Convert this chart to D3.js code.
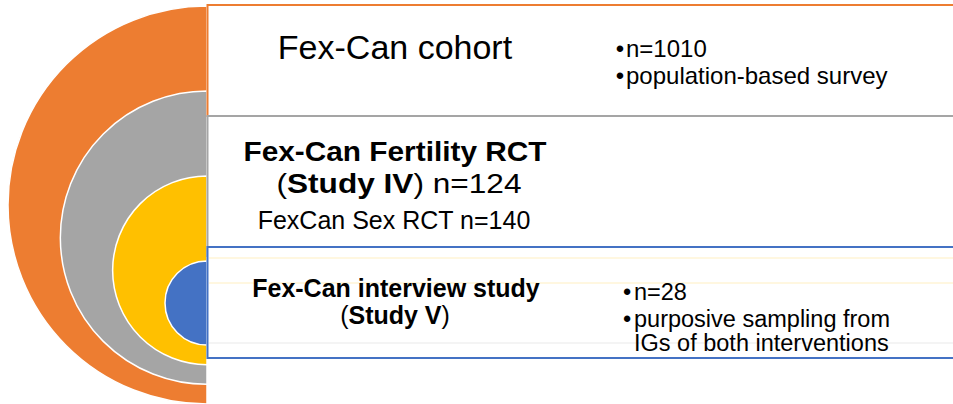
<!DOCTYPE html>
<html>
<head>
<meta charset="utf-8">
<script src="https://cdn.jsdelivr.net/npm/d3@7"></script>
<style>
  body { margin: 0; background: #fff; }
  text { font-family: "Liberation Sans", Arial, sans-serif; fill: #000; }
</style>
</head>
<body>
<div id="chart"></div>
<script>
// nested study layers, outermost first
const layers = ["Fex-Can cohort", "Fex-Can Fertility RCT", "FexCan Sex RCT", "Fex-Can interview study"];
const sampleSizes = [1010, 124, 140, 28];
const studyLabels = ["", "Study IV", "", "Study V"];
const cohortBullets = ["n=1010", "population-based survey"];
const interviewBullets = ["n=28", "purposive sampling from", "IGs of both interventions"];

const colors = ["#ED7D31", "#A5A5A5", "#FFC000", "#4472C4"];

const width = 953, height = 404;
const edgeX = 207;   // flat side of the half discs / left side of the boxes

const svg = d3.select("#chart")
  .append("svg")
  .attr("width", width)
  .attr("height", height);

// ring index -> radius and centre height
const idx = d3.range(layers.length);
const rScale = d3.scaleLinear().domain([0, 3]).range([199, 42]);
const cyScale = d3.scaleLinear().domain([0, 3]).range([205, 303]);

const arc = d3.arc()
  .innerRadius(0)
  .startAngle(Math.PI)
  .endAngle(2 * Math.PI);

svg.selectAll("path.ring")
  .data(idx)
  .enter()
  .append("path")
  .attr("class", "ring")
  .attr("transform", i => `translate(${edgeX},${cyScale(i)})`)
  .attr("d", i => arc({ outerRadius: rScale(i) }))
  .attr("fill", i => colors[i])
  .attr("stroke", "#fff")
  .attr("stroke-width", 1.5);

// boxes to the right
const boxes = [
  { y: 5, h: 111, c: colors[0] },
  { y: 116, h: 140, c: colors[1] },
  { y: 247, h: 111, c: colors[3] }
];
svg.selectAll("rect.box")
  .data(boxes)
  .enter()
  .append("rect")
  .attr("class", "box")
  .attr("x", edgeX + 0.5)
  .attr("y", d => d.y)
  .attr("width", 800)
  .attr("height", d => d.h)
  .attr("fill", "#fff")
  .attr("stroke", d => d.c)
  .attr("stroke-width", 2);

// faint ghost lines inside the last box
[[258, colors[2]], [283, colors[2]], [343, "#A5A5A5"]].forEach(([y, c]) => {
  svg.append("line")
    .attr("x1", edgeX + 2).attr("x2", width)
    .attr("y1", y).attr("y2", y)
    .attr("stroke", c).attr("stroke-opacity", 0.12).attr("stroke-width", 2);
});

const midX = 395;

// cohort
svg.append("text")
  .attr("x", midX).attr("y", 59)
  .attr("text-anchor", "middle")
  .style("font-size", "34px")
  .text(layers[0]);

// fertility RCT (tight leading, so a touch smaller and stretched to width)
svg.append("text")
  .attr("x", midX).attr("y", 161)
  .attr("text-anchor", "middle")
  .attr("textLength", 303)
  .attr("lengthAdjust", "spacingAndGlyphs")
  .style("font-size", "28px")
  .style("font-weight", "bold")
  .text(layers[1]);

const l2 = svg.append("text")
  .attr("x", midX + 4).attr("y", 193)
  .attr("text-anchor", "middle")
  .attr("textLength", 245)
  .attr("lengthAdjust", "spacingAndGlyphs")
  .style("font-size", "28px");
l2.append("tspan").text("(");
l2.append("tspan").style("font-weight", "bold").text(studyLabels[1]);
l2.append("tspan").text(") n=" + sampleSizes[1]);

svg.append("text")
  .attr("x", midX - 1).attr("y", 229)
  .attr("text-anchor", "middle")
  .style("font-size", "25px")
  .text(layers[2] + " n=" + sampleSizes[2]);

// interview study
svg.append("text")
  .attr("x", midX + 1).attr("y", 297)
  .attr("text-anchor", "middle")
  .style("font-size", "25px")
  .style("font-weight", "bold")
  .text(layers[3]);

const l5 = svg.append("text")
  .attr("x", midX).attr("y", 324)
  .attr("text-anchor", "middle")
  .style("font-size", "25px");
l5.append("tspan").text("(");
l5.append("tspan").style("font-weight", "bold").text(studyLabels[3]);
l5.append("tspan").text(")");

// bullet lists
function bulletList(lines, bulletX, textX, ys, size, bulleted) {
  lines.forEach((t, i) => {
    if (bulleted[i]) {
      svg.append("text")
        .attr("x", bulletX).attr("y", ys[i])
        .attr("text-anchor", "middle")
        .style("font-size", size + "px")
        .text("\u2022");
    }
    svg.append("text")
      .attr("x", textX).attr("y", ys[i])
      .style("font-size", size + "px")
      .text(t);
  });
}
bulletList(cohortBullets, 620, 626, [57, 84], 24, [true, true]);
bulletList(interviewBullets, 627, 634, [300, 327, 351], 23.5, [true, true, false]);
</script>
</body>
</html>
